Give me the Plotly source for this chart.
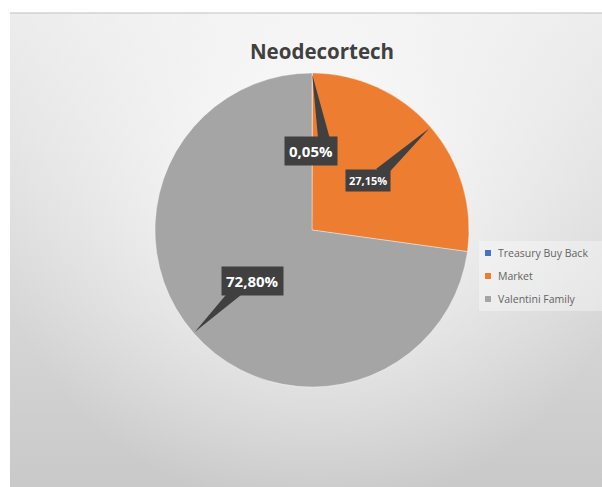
import base64
import math
import plotly.graph_objects as go

# ---- data ----
labels = ["Treasury Buy Back", "Market", "Valentini Family"]
values = [0.05, 27.15, 72.80]
colors = ["#4472C4", "#ED7D31", "#A5A5A5"]
title_text = "Neodecortech"

# ---- layout constants (pixels) ----
W, H = 602, 487
CX, CY, R = 312, 230, 157
# label box center offsets from slice tip, tail base offsets from box center, font size
label_offsets = [(-1, 76), (-61, 52), (58, -51)]
tail_base = [(13, -10), (12, -7), (-15, 9)]
label_sizes = [15, 11, 15]


def px(x):
    return x / W


def py(y):
    return 1 - y / H


svg = f"""<svg xmlns='http://www.w3.org/2000/svg' width='592' height='474' viewBox='0 0 592 474'>
<defs>
<linearGradient id='lg' x1='0' y1='0' x2='0' y2='1'>
<stop offset='0' stop-color='#ededed'/>
<stop offset='1' stop-color='#c9c9c9'/>
</linearGradient>
<radialGradient id='rg' gradientUnits='userSpaceOnUse' cx='305' cy='170' r='330'>
<stop offset='0' stop-color='#ffffff' stop-opacity='0.95'/>
<stop offset='0.5' stop-color='#ffffff' stop-opacity='0.45'/>
<stop offset='1' stop-color='#ffffff' stop-opacity='0'/>
</radialGradient>
</defs>
<rect width='592' height='474' fill='url(#lg)'/>
<rect width='592' height='474' fill='url(#rg)'/>
</svg>"""
bg_uri = "data:image/svg+xml;base64," + base64.b64encode(svg.encode()).decode()

fig = go.Figure(
    go.Pie(
        labels=labels,
        values=values,
        marker=dict(colors=colors, line=dict(color="rgba(255,255,255,0.6)", width=0.6)),
        sort=False,
        direction="clockwise",
        rotation=0,
        textinfo="none",
        hoverinfo="label+percent",
        showlegend=False,
        domain=dict(x=[px(CX - R), px(CX + R)], y=[py(CY + R + 1), py(CY - R - 1)]),
    )
)

shapes = []
annotations = []

# top frame line
shapes.append(dict(type="line", xref="paper", yref="paper", x0=px(10), x1=1, y0=py(13), y1=py(13),
                   line=dict(color="#c0c0c0", width=1.2), layer="above"))

# callouts computed from data
total = sum(values)
cum = 0.0
for i, v in enumerate(values):
    mid = (cum + v / 2) / total * 2 * math.pi
    cum += v
    tx = CX + R * 0.99 * math.sin(mid)
    ty = CY - R * 0.99 * math.cos(mid)
    bx = tx + label_offsets[i][0]
    by = ty + label_offsets[i][1]
    basex = bx + tail_base[i][0]
    basey = by + tail_base[i][1]
    dx, dy = basex - tx, basey - ty
    L = math.hypot(dx, dy)
    nx, ny = -dy / L, dx / L
    hw = 6
    p1 = (basex + nx * hw, basey + ny * hw)
    p2 = (basex - nx * hw, basey - ny * hw)
    path = (f"M {px(tx)} {py(ty)} L {px(p1[0])} {py(p1[1])} "
            f"L {px(p2[0])} {py(p2[1])} Z")
    shapes.append(dict(type="path", xref="paper", yref="paper", path=path,
                       fillcolor="#404040", line=dict(width=0), layer="above"))
    txt = f"{v:.2f}%".replace(".", ",")
    annotations.append(dict(
        x=px(bx), y=py(by), xref="paper", yref="paper", text=f"<b>{txt}</b>",
        showarrow=False, bgcolor="#404040", borderpad=4 if label_sizes[i] > 12 else 3,
        font=dict(family="Open Sans, Noto Sans, sans-serif", size=label_sizes[i], color="white"),
        xanchor="center", yanchor="middle",
    ))

# custom legend
shapes.append(dict(type="rect", xref="paper", yref="paper", x0=px(479), x1=1, y0=py(311), y1=py(241),
                   fillcolor="rgba(255,255,255,0.35)", line=dict(width=0), layer="above"))
for i, lab in enumerate(labels):
    yy = 253 + 23 * i
    shapes.append(dict(type="rect", xref="paper", yref="paper", x0=px(485), x1=px(491),
                       y0=py(yy + 3), y1=py(yy - 3), fillcolor=colors[i], line=dict(width=0),
                       layer="above"))
    annotations.append(dict(
        x=px(496), y=py(yy), xref="paper", yref="paper", text=lab, showarrow=False,
        xanchor="left", yanchor="middle",
        font=dict(family="Open Sans, Noto Sans, sans-serif", size=10.5, color="#636363"),
    ))

fig.update_layout(
    width=W, height=H,
    margin=dict(l=0, r=0, t=0, b=0),
    paper_bgcolor="white",
    plot_bgcolor="rgba(0,0,0,0)",
    title=dict(text=f"<b>{title_text}</b>", x=px(322), y=py(52), xanchor="center", yanchor="middle",
               font=dict(family="Open Sans, Noto Sans, sans-serif", size=20.5, color="#404040")),
    images=[dict(source=bg_uri, xref="paper", yref="paper", x=px(10), y=py(13),
                 sizex=1 - px(10), sizey=py(13), xanchor="left", yanchor="top",
                 sizing="stretch", layer="below")],
    shapes=shapes,
    annotations=annotations,
)

fig.write_html("out.html")
